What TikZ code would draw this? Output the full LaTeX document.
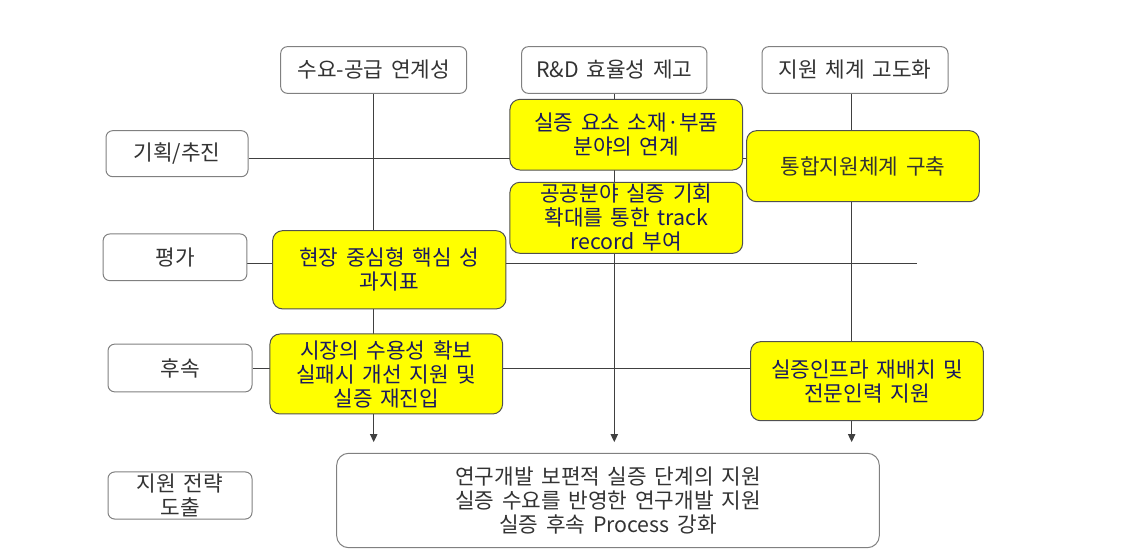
\documentclass[tikz,border=0pt]{standalone}
\usepackage{fontspec}
\setmainfont{Noto Sans CJK KR}[WordSpace=1.6]
\usetikzlibrary{arrows.meta,backgrounds}

\definecolor{boxline}{RGB}{128,128,128}
\definecolor{hiline}{RGB}{80,80,80}
\definecolor{connline}{RGB}{64,64,64}
\definecolor{hifill}{RGB}{255,255,0}
\definecolor{hitext}{RGB}{25,25,95}
\definecolor{plaintext}{RGB}{51,51,51}

\tikzset{every picture/.style={line width=0.75pt}}
\tikzset{
	boxfont/.style={font=\fontsize{16}{18}\selectfont},
	headbox/.style={draw=boxline, fill=white, rounded corners=5pt, inner sep=0pt, align=center, text=plaintext, boxfont},
	hibox/.style={draw=hiline, fill=hifill, rounded corners=7.5pt, inner sep=0pt, align=center, text=hitext, boxfont},
	link/.style={draw=connline, line width=0.8pt},
	golink/.style={link, -{Triangle[length=6pt,width=5.5pt]}, shorten >=8pt}
}

\begin{document}
\begin{tikzpicture}[x=0.75pt,y=0.75pt,yscale=-1,xscale=1]
	\useasboundingbox (0,0) rectangle (1122,555);

	%Shape: Top headers
	\node[headbox, minimum width=139.5pt, minimum height=35pt] (demand) at (373.7,70) {수요-공급 연계성};
	\node[headbox, minimum width=139pt, minimum height=35pt] (rnd) at (614.3,70) {R\&D 효율성 제고};
	\node[headbox, minimum width=139.5pt, minimum height=35pt] (sys) at (855,70) {지원 체계 고도화};

	%Shape: Row labels
	\node[headbox, minimum width=106.5pt, minimum height=34.5pt] (plan) at (177,153.7) {기획/추진};
	\node[headbox, minimum width=107.8pt, minimum height=35pt] (eval) at (175,257.3) {평가};
	\node[headbox, minimum width=108pt, minimum height=35.8pt] (follow) at (180,368) {후속};
	\node[headbox, minimum width=108pt, minimum height=35.3pt] (strat) at (180,495.5) {지원 전략\\도출};

	%Shape: Highlighted tasks
	\node[hibox, minimum width=174.5pt, minimum height=53pt] (link1) at (626.3,134.7) {실증 요소 소재·부품\\분야의 연계};
	\node[hibox, minimum width=174.5pt, minimum height=53.3pt] (public) at (626.3,217.8) {공공분야 실증 기회\\확대를 통한 track\\record 부여};
	\node[hibox, minimum width=174.5pt, minimum height=53.3pt, text=plaintext] (integ) at (863,166.2) {통합지원체계 구축};
	\node[hibox, minimum width=175pt, minimum height=58.7pt] (kpi) at (389.3,269.8) {현장 중심형 핵심 성\\과지표};
	\node[hibox, minimum width=174.5pt, minimum height=60pt] (accept) at (386.3,374) {시장의 수용성 확보\\실패시 개선 지원 및\\실증 재진입};
	\node[hibox, minimum width=174.5pt, minimum height=59.3pt] (infra) at (867,381.2) {실증인프라 재배치 및\\전문인력 지원};

	%Shape: Result
	\node[headbox, rounded corners=9pt, minimum width=407pt, minimum height=70.8pt] (goal) at (608,500.5) {연구개발 보편적 실증 단계의 지원\\실증 수요를 반영한 연구개발 지원\\실증 후속 Process 강화};

	\coordinate (evalend) at (917,0);

	\begin{scope}[on background layer]
		%Straight Lines: columns
		\draw[golink] (demand.south) -- (demand.south |- goal.north);
		\draw[golink] (rnd.south) -- (rnd.south |- goal.north);
		\draw[golink] ([xshift=-2.5pt]sys.south) -- ([xshift=-2.5pt]sys.south |- goal.north);
		%Straight Lines: rows
		\path (plan.east) ++(0,4.5) coordinate (planrow);
		\draw[link] (planrow) -- (planrow -| integ.west);
		\path (eval.east) ++(0,6) coordinate (evalrow);
		\draw[link] (evalrow) -- (evalrow -| evalend);
		\path (follow.east) ++(0,0.3) coordinate (followrow);
		\draw[link] (followrow) -- (followrow -| infra.west);
	\end{scope}

\end{tikzpicture}
\end{document}
